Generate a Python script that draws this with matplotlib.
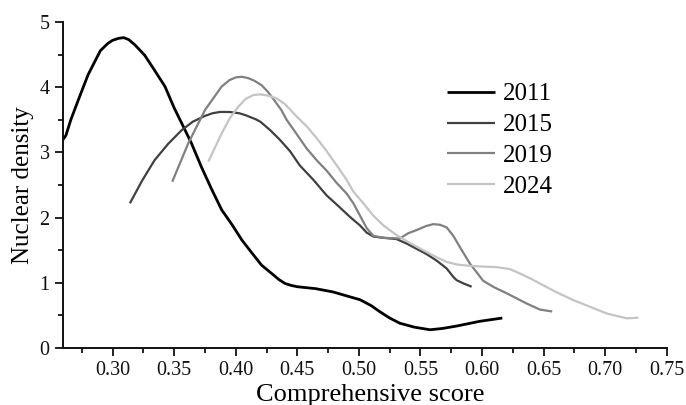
import matplotlib
matplotlib.use("Agg")
import matplotlib.pyplot as plt
from matplotlib.ticker import MultipleLocator, FormatStrFormatter

plt.rcParams['font.family'] = ['Liberation Serif', 'DejaVu Serif']

years = ["2011", "2015", "2019", "2024"]

x2011 = [0.2594, 0.262, 0.266, 0.272, 0.280, 0.290, 0.296, 0.300, 0.305, 0.309, 0.313, 0.318,
         0.326, 0.334, 0.3425, 0.350, 0.356, 0.364, 0.372, 0.380, 0.3885, 0.397, 0.4048, 0.413,
         0.421, 0.430, 0.435, 0.440, 0.445, 0.450, 0.465, 0.479, 0.490, 0.501, 0.510, 0.517,
         0.525, 0.5333, 0.545, 0.5578, 0.568, 0.5794, 0.5983, 0.6165]
y2011 = [3.19, 3.26, 3.50, 3.80, 4.19, 4.56, 4.67, 4.72, 4.75, 4.76, 4.73, 4.65,
         4.49, 4.26, 4.01, 3.68, 3.45, 3.14, 2.78, 2.45, 2.12, 1.89, 1.66, 1.46,
         1.27, 1.13, 1.05, 0.99, 0.96, 0.94, 0.91, 0.86, 0.80, 0.74, 0.65, 0.557,
         0.46, 0.38, 0.32, 0.28, 0.30, 0.337, 0.41, 0.46]

x2015 = [0.314, 0.324, 0.334, 0.345, 0.356, 0.365, 0.375, 0.381, 0.387, 0.395, 0.403, 0.408,
         0.412, 0.416, 0.420, 0.428, 0.436, 0.444, 0.452, 0.463, 0.4738, 0.482, 0.4928,
         0.5009, 0.5063, 0.5117, 0.520, 0.5307, 0.539, 0.547, 0.555, 0.5632, 0.5713, 0.5767,
         0.5794, 0.585, 0.5916]
y2015 = [2.22, 2.57, 2.88, 3.13, 3.34, 3.47, 3.56, 3.60, 3.62, 3.62, 3.60, 3.57,
         3.54, 3.51, 3.47, 3.34, 3.19, 3.02, 2.80, 2.58, 2.34, 2.20, 2.01,
         1.88, 1.77, 1.71, 1.69, 1.67, 1.60, 1.52, 1.44, 1.34, 1.22, 1.09,
         1.04, 0.99, 0.94]

x2019 = [0.3484, 0.3614, 0.375, 0.3885, 0.395, 0.400, 0.4048, 0.410, 0.415, 0.421, 0.426,
         0.4305, 0.437, 0.4413, 0.4495, 0.4576, 0.4657, 0.4738, 0.482, 0.49, 0.4955, 0.5009,
         0.5063, 0.5117, 0.520, 0.5333, 0.540, 0.547, 0.5545, 0.5605, 0.5659, 0.5713, 0.5767,
         0.582, 0.590, 0.601, 0.610, 0.620, 0.636, 0.647, 0.657]
y2019 = [2.55, 3.14, 3.65, 4.01, 4.11, 4.15, 4.16, 4.14, 4.10, 4.03, 3.93,
         3.82, 3.65, 3.50, 3.28, 3.06, 2.88, 2.72, 2.53, 2.37, 2.22, 2.03,
         1.84, 1.72, 1.69, 1.68, 1.76, 1.81, 1.87, 1.90, 1.89, 1.85, 1.72,
         1.55, 1.30, 1.03, 0.93, 0.84, 0.685, 0.59, 0.56]

x2024 = [0.3777, 0.3885, 0.395, 0.402, 0.408, 0.4142, 0.420, 0.4264, 0.433, 0.440, 0.4495,
         0.4576, 0.4657, 0.4738, 0.482, 0.49, 0.4955, 0.5036, 0.5117, 0.520, 0.5307, 0.5415,
         0.5523, 0.5613, 0.5713, 0.580, 0.590, 0.600, 0.612, 0.6227, 0.630, 0.640, 0.647,
         0.660, 0.674, 0.688, 0.7013, 0.7175, 0.727]
y2024 = [2.86, 3.29, 3.52, 3.70, 3.82, 3.88, 3.89, 3.87, 3.83, 3.74, 3.55,
         3.40, 3.22, 3.02, 2.80, 2.58, 2.40, 2.22, 2.03, 1.88, 1.73, 1.61,
         1.50, 1.41, 1.32, 1.28, 1.26, 1.25, 1.24, 1.21, 1.15, 1.06, 0.99,
         0.86, 0.736, 0.63, 0.53, 0.455, 0.465]

xs = [x2011, x2015, x2019, x2024]
ys = [y2011, y2015, y2019, y2024]
colors = ["#000000", "#404040", "#808080", "#c4c4c4"]
widths = [2.0, 1.6, 1.6, 1.6]

fig = plt.figure(figsize=(6.86, 4.05), dpi=100)
ax = fig.add_axes([0.0914, 0.1407, 0.9718 - 0.0914, 0.9457 - 0.1407])

for x, y, c, w, lab in zip(xs, ys, colors, widths, years):
    ax.plot(x, y, color=c, lw=w, label=lab, solid_capstyle='butt', solid_joinstyle='round')

ax.set_xlim(0.2594, 0.75)
ax.set_ylim(0, 5)
ax.xaxis.set_major_locator(MultipleLocator(0.05))
ax.xaxis.set_minor_locator(MultipleLocator(0.025))
ax.xaxis.set_major_formatter(FormatStrFormatter('%.2f'))
ax.yaxis.set_major_locator(MultipleLocator(1))
ax.yaxis.set_minor_locator(MultipleLocator(0.5))

for s in ['top', 'right']:
    ax.spines[s].set_visible(False)
for s in ['left', 'bottom']:
    ax.spines[s].set_linewidth(1.4)
    ax.spines[s].set_color('#111111')

ax.tick_params(which='major', direction='out', length=6, width=1.3, labelsize=14.5,
               colors='#111111', pad=3.5)
ax.tick_params(which='minor', direction='out', length=3.6, width=1.3, colors='#111111')

ax.set_xlabel("Comprehensive score", fontsize=19, va='baseline')
ax.xaxis.set_label_coords(0.509, -0.1626)
ax.set_ylabel("Nuclear density", fontsize=18, labelpad=4)

leg = ax.legend(loc='upper left', bbox_to_anchor=(447 / 686, 1 - 83 / 405),
                bbox_transform=fig.transFigure, frameon=False, fontsize=18,
                handlelength=1.9, handletextpad=0.35, labelspacing=0.33,
                borderpad=0, borderaxespad=0)

fig.savefig("out.png", dpi=100)
